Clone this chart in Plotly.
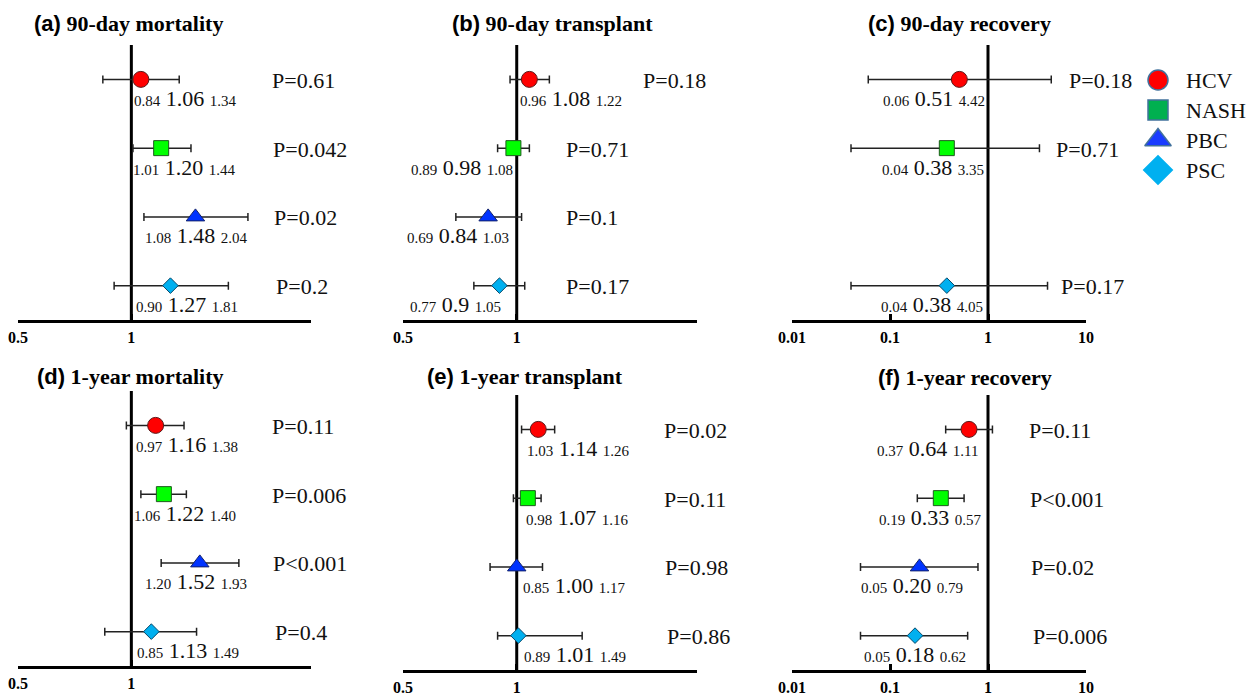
import numpy as np
import plotly.graph_objects as go

# ---------------- data ----------------
GROUPS = ["HCV", "NASH", "PBC", "PSC"]

a_est = [1.06, 1.20, 1.48, 1.27]
a_lo = [0.84, 1.01, 1.08, 0.90]
a_hi = [1.34, 1.44, 2.04, 1.81]
a_p = ["P=0.61", "P=0.042", "P=0.02", "P=0.2"]

b_est = [1.08, 0.98, 0.84, 0.90]
b_lo = [0.96, 0.89, 0.69, 0.77]
b_hi = [1.22, 1.08, 1.03, 1.05]
b_p = ["P=0.18", "P=0.71", "P=0.1", "P=0.17"]
b_est_text = ["1.08", "0.98", "0.84", "0.9"]

c_est = [0.51, 0.38, None, 0.38]
c_lo = [0.06, 0.04, None, 0.04]
c_hi = [4.42, 3.35, None, 4.05]
c_p = ["P=0.18", "P=0.71", None, "P=0.17"]

d_est = [1.16, 1.22, 1.52, 1.13]
d_lo = [0.97, 1.06, 1.20, 0.85]
d_hi = [1.38, 1.40, 1.93, 1.49]
d_p = ["P=0.11", "P=0.006", "P<0.001", "P=0.4"]

e_est = [1.14, 1.07, 1.00, 1.01]
e_lo = [1.03, 0.98, 0.85, 0.89]
e_hi = [1.26, 1.16, 1.17, 1.49]
e_p = ["P=0.02", "P=0.11", "P=0.98", "P=0.86"]

f_est = [0.64, 0.33, 0.20, 0.18]
f_lo = [0.37, 0.19, 0.05, 0.05]
f_hi = [1.11, 0.57, 0.79, 0.62]
f_p = ["P=0.11", "P<0.001", "P=0.02", "P=0.006"]

ticks_ratio = [0.5, 1]
ticks_ratio_text = ["0.5", "1"]
ticks_decade = [0.01, 0.1, 1, 10]
ticks_decade_text = ["0.01", "0.1", "1", "10"]
REF_VALUE = 1

# ---------------- layout / style ----------------
W, H = 1251, 697
SERIF = "Liberation Serif, Times New Roman, serif"
SANS = "Liberation Sans, Arial, sans-serif"

marker_style = {
    "HCV": dict(symbol="circle", size=16, color="#FF0000", line=dict(color="#5a1a1a", width=1)),
    "NASH": dict(symbol="square", size=15, color="#00FF00", line=dict(color="#1e5a1e", width=1)),
    "PBC": dict(symbol="triangle-up", size=16, color="#0033FF", line=dict(color="#10206a", width=1)),
    "PSC": dict(symbol="diamond", size=12, color="#00B0F0", line=dict(color="#0a4a6a", width=1)),
}
legend_symbol = ["circle", "square", "triangle-up", "diamond"]
legend_size = [20, 20, 23, 22]
legend_color = ["#FF0000", "#00B050", "#1A3CFF", "#00B0F0"]
legend_line = ["#41719C", "#41719C", "#41719C", "#00B0F0"]

panels = [
    dict(tag="(a)", title="90-day mortality", est=a_est, lo=a_lo, hi=a_hi, p=a_p, est_text=None,
         xdom=(18, 311), ydom=(45, 320), rng=(0.5, 3.0), ticks=(ticks_ratio, ticks_ratio_text),
         title_x=32, title_y=24, lab_dx=[45, 23.5, 1.5, 16.5], p_x=[270, 271, 272, 274]),
    dict(tag="(b)", title="90-day transplant", est=b_est, lo=b_lo, hi=b_hi, p=b_p, est_text=b_est_text,
         xdom=(403, 697), ydom=(45, 320), rng=(0.5, 3.0), ticks=(ticks_ratio, ticks_ratio_text),
         title_x=450, title_y=24, lab_dx=[42, -51.5, -30.5, -43.5], p_x=[641, 564, 564, 564]),
    dict(tag="(c)", title="90-day recovery", est=c_est, lo=c_lo, hi=c_hi, p=c_p, est_text=None,
         xdom=(792, 1086), ydom=(45, 320), rng=(0.01, 10), ticks=(ticks_decade, ticks_decade_text),
         title_x=866, title_y=24, lab_dx=[-25, -14, 0, -14.5], p_x=[1067, 1054, 0, 1059]),
    dict(tag="(d)", title="1-year mortality", est=d_est, lo=d_lo, hi=d_hi, p=d_p, est_text=None,
         xdom=(18, 311), ydom=(391, 666), rng=(0.5, 3.0), ticks=(ticks_ratio, ticks_ratio_text),
         title_x=35, title_y=376, lab_dx=[31, 21, -3.5, 37], p_x=[270, 270, 271, 273]),
    dict(tag="(e)", title="1-year transplant", est=e_est, lo=e_lo, hi=e_hi, p=e_p, est_text=None,
         xdom=(403, 697), ydom=(395, 670), rng=(0.5, 3.0), ticks=(ticks_ratio, ticks_ratio_text),
         title_x=425, title_y=376, lab_dx=[40, 50, 58, 57], p_x=[662, 662, 663, 665]),
    dict(tag="(f)", title="1-year recovery", est=f_est, lo=f_lo, hi=f_hi, p=f_p, est_text=None,
         xdom=(792, 1086), ydom=(395, 670), rng=(0.01, 10), ticks=(ticks_decade, ticks_decade_text),
         title_x=876, title_y=377, lab_dx=[-42, -10, -7, 0], p_x=[1027, 1028, 1029, 1031]),
]

fig = go.Figure()
annotations = []
layout_axes = {}
Y_LIMITS = [0.5, len(GROUPS) + 0.5]

for k, pn in enumerate(panels, start=1):
    xa = "x" if k == 1 else f"x{k}"
    ya = "y" if k == 1 else f"y{k}"
    xkey = "xaxis" if k == 1 else f"xaxis{k}"
    ykey = "yaxis" if k == 1 else f"yaxis{k}"

    layout_axes[xkey] = dict(
        domain=[pn["xdom"][0] / W, pn["xdom"][1] / W],
        type="log",
        range=[np.log10(pn["rng"][0]), np.log10(pn["rng"][1])],
        tickvals=pn["ticks"][0], ticktext=pn["ticks"][1],
        tickfont=dict(family=SERIF, size=16, color="black", weight="bold"),
        showline=True, linewidth=3, linecolor="black",
        ticks="inside", ticklen=6, tickwidth=2.5, tickcolor="black",
        showgrid=False, zeroline=False, anchor=ya, fixedrange=True,
        ticklabelstandoff=1, automargin=False,
    )
    layout_axes[ykey] = dict(
        domain=[1 - pn["ydom"][1] / H, 1 - pn["ydom"][0] / H],
        range=Y_LIMITS, visible=False, anchor=xa, fixedrange=True, automargin=False,
    )

    # reference line at ratio 1
    fig.add_trace(go.Scatter(
        x=[REF_VALUE, REF_VALUE], y=Y_LIMITS, mode="lines", showlegend=False, hoverinfo="skip",
        line=dict(color="black", width=3), xaxis=xa, yaxis=ya, cliponaxis=False,
    ))

    # title
    annotations.append(dict(
        xref="paper", yref="paper", x=pn["title_x"] / W, y=1 - pn["title_y"] / H,
        xanchor="left", yanchor="middle", showarrow=False,
        text=f"<b><span style='font-family:{SANS}'>{pn['tag']}</span> {pn['title']}</b>",
        font=dict(family=SERIF, size=22, color="black"),
    ))

    for j, g in enumerate(GROUPS):
        est = pn["est"][j]
        if est is None:
            continue
        lo, hi = pn["lo"][j], pn["hi"][j]
        row = len(GROUPS) - j
        fig.add_trace(go.Scatter(
            x=[est], y=[row], mode="markers", name=g, showlegend=False,
            marker=marker_style[g],
            error_x=dict(type="data", symmetric=False, array=[hi - est], arrayminus=[est - lo],
                         color="#222222", thickness=1.5, width=4),
            xaxis=xa, yaxis=ya, hoverinfo="skip", cliponaxis=False,
        ))
        mid = pn["est_text"][j] if pn["est_text"] else f"{est:.2f}"
        annotations.append(dict(
            xref=xa, yref=ya, x=float(np.log10(est)), y=row, xshift=pn["lab_dx"][j], yshift=-19,
            xanchor="center", yanchor="middle", showarrow=False,
            text=(f"<span style='font-size:15px'>{lo:.2f}</span> {mid} "
                  f"<span style='font-size:15px'>{hi:.2f}</span>"),
            font=dict(family=SERIF, size=22, color="#111111"),
        ))
        annotations.append(dict(
            xref="paper", yref=ya, x=pn["p_x"][j] / W, y=row, yshift=-1,
            xanchor="left", yanchor="middle", showarrow=False,
            text=pn["p"][j], font=dict(family=SERIF, size=22, color="#111111"),
        ))

# legend (drawn as its own small key panel)
key_rows = [len(GROUPS) - j for j in range(len(GROUPS))]
fig.add_trace(go.Scatter(
    x=[0] * len(GROUPS), y=key_rows, mode="markers", showlegend=False, hoverinfo="skip",
    marker=dict(symbol=legend_symbol, size=legend_size, color=legend_color, opacity=1,
                line=dict(color=legend_line, width=1.5)),
    xaxis="x7", yaxis="y7", cliponaxis=False,
))
for j, g in enumerate(GROUPS):
    annotations.append(dict(
        xref="paper", yref="y7", x=1184 / W, y=key_rows[j], xanchor="left", yanchor="middle",
        showarrow=False, text=g, font=dict(family=SERIF, size=22, color="#111111"),
    ))
layout_axes["xaxis7"] = dict(domain=[1148 / W, 1168 / W], range=[-1, 1], visible=False,
                             anchor="y7", fixedrange=True, automargin=False)
layout_axes["yaxis7"] = dict(domain=[1 - 185 / H, 1 - 65 / H], range=Y_LIMITS, visible=False,
                             anchor="x7", fixedrange=True, automargin=False)

fig.update_layout(
    width=W, height=H, margin=dict(l=0, r=0, t=0, b=0, pad=0, autoexpand=False),
    paper_bgcolor="white", plot_bgcolor="rgba(0,0,0,0)",
    annotations=annotations, showlegend=False,
    **layout_axes,
)

fig.write_html("out.html", post_script="document.body.style.margin='0';",
               config={"displayModeBar": False})
